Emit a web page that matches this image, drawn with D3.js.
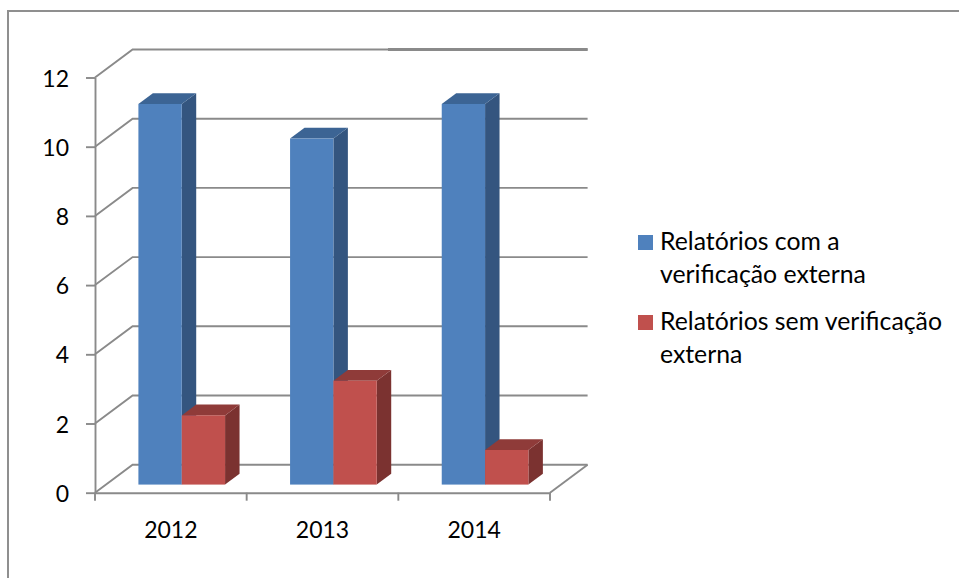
<!DOCTYPE html>
<html>
<head>
<meta charset="utf-8">
<script src="https://cdn.jsdelivr.net/npm/d3@7"></script>
<style>
  html, body { margin: 0; padding: 0; background: #fff; }
  svg { display: block; }
  text { font-family: Lato, "Open Sans", sans-serif; fill: #000; }
</style>
</head>
<body>
<div id="chart"></div>
<script>
// Values
const categories = ['2012', '2013', '2014'];
const withVerification = [11, 10, 11];
const withoutVerification = [2, 3, 1];
const yTicks = [0, 2, 4, 6, 8, 10, 12];
const seriesNames = ['Relatórios com a verificação externa', 'Relatórios sem verificação externa'];
const legendLines = [['Relatórios com a', 'verificação externa'], ['Relatórios sem verificação', 'externa']];

const width = 959;
const height = 581;
const gridColor = '#8a8a8a';

// Front plane of the 3D box
const x = d3.scaleBand().domain(categories).range([95, 550]);
const y = d3.scaleLinear().domain([0, 12]).range([492.7, 77.5]);
const inner = d3.scaleBand().domain(seriesNames).range([32.5, x.bandwidth() - 32.5]);

// Depth: 0 is the front plane, 1 is the back wall
const depthX = 37.6;
const depthY = -28;
const barFront = 0.29;
const barBack = 0.675;
const project = (px, py, d) => [px + depthX * d, py + depthY * d];

const svg = d3
  .select('#chart')
  .append('svg')
  .attr('width', width)
  .attr('height', height);

// Outer chart frame, runs off the page on the right and bottom
svg
  .append('path')
  .attr('d', `M${width},11H8V${height - 3}`)
  .attr('fill', 'none')
  .attr('stroke', '#8f8f8f')
  .attr('stroke-width', 2);

// Gridlines on the side and back walls
const grid = svg.append('g').attr('class', 'grid');
grid
  .selectAll('path')
  .data(yTicks)
  .enter()
  .append('path')
  .attr('fill', 'none')
  .attr('stroke', gridColor)
  .attr('stroke-width', 1.9)
  .attr('d', (d) => {
    const back = project(95, y(d), 1);
    return `M95,${y(d)}L${back[0]},${back[1]}H${project(550, y(d), 1)[0]}`;
  });

// The top back line is heavier on its right part
grid
  .append('line')
  .attr('x1', 388)
  .attr('x2', project(550, y(12), 1)[0])
  .attr('y1', project(550, y(12), 1)[1])
  .attr('y2', project(550, y(12), 1)[1])
  .attr('stroke', gridColor)
  .attr('stroke-width', 3);

// Floor edge on the right side
const floorBack = project(550, y(0), 1);
grid
  .append('line')
  .attr('x1', 550)
  .attr('y1', y(0))
  .attr('x2', floorBack[0])
  .attr('y2', floorBack[1])
  .attr('stroke', gridColor)
  .attr('stroke-width', 1.9);

// Y axis
const yAxis = svg
  .append('g')
  .attr('class', 'y-axis')
  .attr('transform', 'translate(95,0)')
  .call(d3.axisLeft(y).tickValues(yTicks).tickSize(9).tickSizeOuter(0).tickPadding(17));
yAxis.selectAll('.domain, line').attr('stroke', gridColor).attr('stroke-width', 1.9);
yAxis.selectAll('text').style('font-size', '23px').attr('dy', '0.37em');

// X axis, ticks sit on the band edges so labels get their own axis
const xAxis = svg
  .append('g')
  .attr('class', 'x-axis')
  .attr('transform', `translate(0,${y(0)})`)
  .call(d3.axisBottom(x).tickSize(0).tickPadding(29));
xAxis.select('.domain').attr('stroke', gridColor).attr('stroke-width', 1.9);
xAxis.selectAll('text').style('font-size', '23px').attr('dy', '0.71em');
xAxis
  .selectAll('.edge')
  .data([...categories.map((c) => x(c)), x.range()[1]])
  .enter()
  .append('line')
  .attr('class', 'edge')
  .attr('x1', (d) => d)
  .attr('x2', (d) => d)
  .attr('y1', 0)
  .attr('y2', 8)
  .attr('stroke', gridColor)
  .attr('stroke-width', 1.9);

// One 3D column: side, top, then front
function drawColumn(g, left, w, value, colors) {
  const base = y(0);
  const top = y(value);
  const [fx0, fy0] = project(left, base, barFront);
  const [fx1, fyTop] = project(left + w, top, barFront);
  const [bx1, byTop] = project(left + w, top, barBack);
  const [bx0] = project(left, top, barBack);
  const [, byBase] = project(left, base, barBack);

  g.append('path')
    .attr('fill', colors.side)
    .attr('d', `M${fx1},${fyTop}L${bx1},${byTop}V${byBase}L${fx1},${fy0}Z`);
  g.append('path')
    .attr('fill', colors.top)
    .attr('d', `M${fx0},${fyTop}L${bx0},${byTop}H${bx1}L${fx1},${fyTop}Z`);
  g.append('rect')
    .attr('x', fx0)
    .attr('y', fyTop)
    .attr('width', fx1 - fx0)
    .attr('height', fy0 - fyTop)
    .attr('fill', colors.front);
}

const blue = { front: '#4f81bd', side: '#34557f', top: '#3c6494' };
const red = { front: '#c0504d', side: '#7b3230', top: '#8f3b39' };

const bars = svg.append('g').attr('class', 'bars');
categories.forEach((c, i) => {
  const g = bars.append('g');
  drawColumn(g, x(c) + inner(seriesNames[0]), inner.bandwidth(), withVerification[i], blue);
  drawColumn(g, x(c) + inner(seriesNames[1]), inner.bandwidth(), withoutVerification[i], red);
});

// Legend
const legendTop = [235, 315];
const legendColors = [blue.front, red.front];
const legend = svg.append('g').attr('class', 'legend');
legendLines.forEach((lines, i) => {
  legend
    .append('rect')
    .attr('x', 638)
    .attr('y', legendTop[i])
    .attr('width', 15)
    .attr('height', 15)
    .attr('fill', legendColors[i]);
  lines.forEach((line, j) => {
    legend
      .append('text')
      .attr('x', 660)
      .attr('y', legendTop[i] + 14.5 + j * 33)
      .style('font-size', '24.8px')
      .text(line);
  });
});
</script>
</body>
</html>
